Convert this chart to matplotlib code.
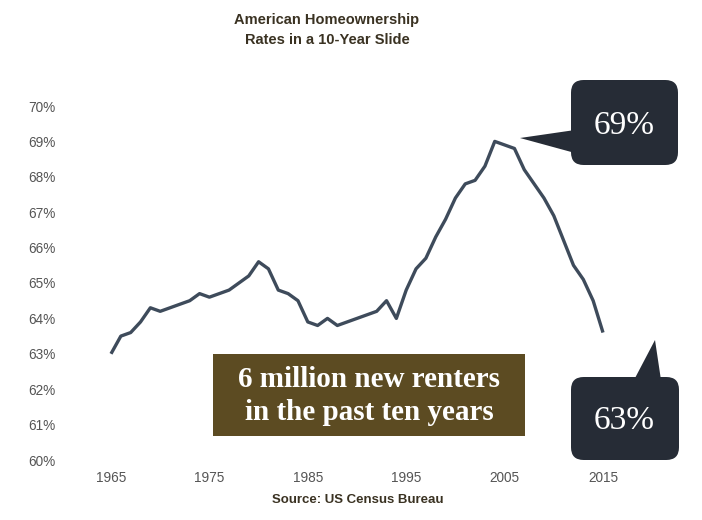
import matplotlib
matplotlib.use("Agg")
import matplotlib.pyplot as plt
from matplotlib.patches import FancyBboxPatch, Polygon, Rectangle

years = list(range(1965, 2016))
rates = [63.0, 63.5, 63.6, 63.9, 64.3, 64.2, 64.3, 64.4, 64.5, 64.7, 64.6,
         64.7, 64.8, 65.0, 65.2, 65.6, 65.4, 64.8, 64.7, 64.5, 63.9,
         63.8, 64.0, 63.8, 63.9, 64.0, 64.1, 64.2, 64.5, 64.0, 64.8,
         65.4, 65.7, 66.3, 66.8, 67.4, 67.8, 67.9, 68.3, 69.0, 68.9,
         68.8, 68.2, 67.8, 67.4, 66.9, 66.2, 65.5, 65.1, 64.5, 63.6]
xticks = [1965, 1975, 1985, 1995, 2005, 2015]
yticks = [60, 61, 62, 63, 64, 65, 66, 67, 68, 69, 70]
title = "American Homeownership\nRates in a 10-Year Slide"
source = "Source: US Census Bureau"
callout_top = "69%"
callout_bottom = "63%"
banner = "6 million new renters\nin the past ten years"

W, H = 702, 520
fig = plt.figure(figsize=(W / 100, H / 100), dpi=100)
fig.patch.set_facecolor("white")

def fx(x):
    return x / W

def fy(y):
    return 1 - y / H

# axes: 1965 at x=111, 2015 at x=603; 70% at y=106, 60% at y=460
ax = fig.add_axes([fx(111), fy(460), fx(603) - fx(111), fy(106) - fy(460)])
ax.plot(years, rates, color="#3e4b5b", lw=2.4, solid_joinstyle="round",
        solid_capstyle="butt", clip_on=False)
ax.set_xlim(1965, 2015)
ax.set_ylim(60, 70)
ax.set_xticks(xticks)
ax.set_xticklabels([str(t) for t in xticks])
ax.set_yticks(yticks)
ax.set_yticklabels([f"{t}%" for t in yticks])
for s in ax.spines.values():
    s.set_visible(False)
ax.tick_params(axis="both", length=0, labelsize=9.8, labelcolor="#555555")
ax.tick_params(axis="y", pad=40)
ax.tick_params(axis="x", pad=8)
for lab in ax.get_xticklabels() + ax.get_yticklabels():
    lab.set_family(["Liberation Sans", "DejaVu Sans"])
ax.set_facecolor("none")

# title
fig.text(fx(327), fy(30), title, ha="center", va="center", fontsize=10.5,
         fontweight="bold", color="#3a3222", family=["Liberation Sans"],
         linespacing=1.5)
# source
fig.text(fx(358), fy(500), source, ha="center", va="center", fontsize=9.5,
         fontweight="bold", color="#3a3222", family=["Liberation Sans"])

dark = "#262c36"
# top callout
fig.patches.append(FancyBboxPatch((fx(571), fy(165)), fx(678) - fx(571), fy(80) - fy(165),
                                  boxstyle="round,pad=0,rounding_size=0.018",
                                  transform=fig.transFigure, facecolor=dark,
                                  edgecolor="none", mutation_aspect=W / H))
fig.patches.append(Polygon([(fx(520), fy(138)), (fx(575), fy(130)), (fx(575), fy(153))],
                           closed=True, transform=fig.transFigure, facecolor=dark,
                           edgecolor="none"))
fig.text(fx(624), fy(126), callout_top, ha="center", va="center", fontsize=24,
         color="white", family=["Liberation Serif"])

# bottom callout
fig.patches.append(FancyBboxPatch((fx(571), fy(460)), fx(679) - fx(571), fy(377) - fy(460),
                                  boxstyle="round,pad=0,rounding_size=0.018",
                                  transform=fig.transFigure, facecolor=dark,
                                  edgecolor="none", mutation_aspect=W / H))
fig.patches.append(Polygon([(fx(655), fy(340)), (fx(634), fy(380)), (fx(661), fy(380))],
                           closed=True, transform=fig.transFigure, facecolor=dark,
                           edgecolor="none"))
fig.text(fx(624), fy(421), callout_bottom, ha="center", va="center", fontsize=24,
         color="white", family=["Liberation Serif"])

# banner
fig.patches.append(Rectangle((fx(213), fy(436)), fx(525) - fx(213), fy(354) - fy(436),
                             transform=fig.transFigure, facecolor="#5c4b22",
                             edgecolor="none"))
fig.text(fx(369), fy(396), banner, ha="center", va="center", fontsize=21,
         fontweight="bold", color="white", family=["Liberation Serif"],
         linespacing=1.3)

fig.savefig("out.png", dpi=100, facecolor="white")
